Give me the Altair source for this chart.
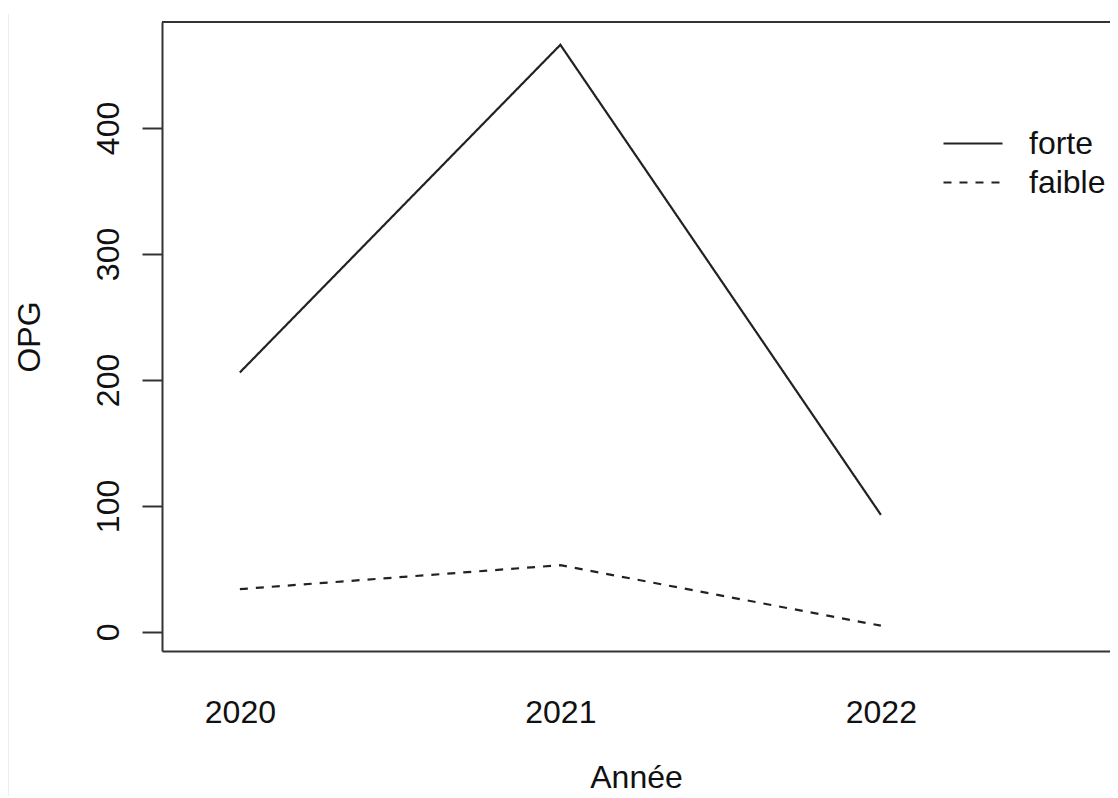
import altair as alt
import pandas as pd

annees = [2020, 2021, 2022]
forte = [206, 466, 93]
faible = [34, 53, 5]
series = ["forte", "faible"]
y_ticks = [0, 100, 200, 300, 400]

rows = []
for a, v in zip(annees, forte):
    rows.append({"Année": a, "OPG": v, "serie": "forte"})
for a, v in zip(annees, faible):
    rows.append({"Année": a, "OPG": v, "serie": "faible"})
df = pd.DataFrame(rows)

W, H = 948, 629
FONT = "Liberation Sans"
FS = 32
BOX = "#333333"

x = alt.X("Année:Q",
          scale=alt.Scale(domain=[2019.757, 2022.715], nice=False, zero=False),
          axis=alt.Axis(values=annees, format="d", ticks=False, grid=False,
                        domain=True, domainColor=BOX, domainWidth=2,
                        labelFontSize=FS, labelFont=FONT, labelColor="#111",
                        labelPadding=46, title="Année", titleFont=FONT,
                        titleFontSize=FS, titleFontWeight="normal", titleColor="#111",
                        titlePadding=34))
y = alt.Y("OPG:Q",
          scale=alt.Scale(domain=[-15.1, 484.1], nice=False, zero=False),
          axis=alt.Axis(values=y_ticks, grid=False, tickSize=20, tickWidth=2,
                        tickColor=BOX, domain=True, domainColor=BOX, domainWidth=2,
                        labelAngle=-90, labelAlign="center", labelBaseline="bottom",
                        labelFontSize=FS, labelFont=FONT, labelColor="#111",
                        labelPadding=17, title="OPG", titleFont=FONT,
                        titleFontSize=FS, titleFontWeight="normal", titleColor="#111",
                        titlePadding=46))

lines = alt.Chart(df).mark_line(strokeWidth=2.2, color="#222").encode(
    x=x, y=y,
    strokeDash=alt.StrokeDash("serie:N",
        scale=alt.Scale(domain=series, range=[[1, 0], [8, 8]]),
        legend=alt.Legend(title=None, orient="none", legendX=780, legendY=103,
                          symbolType="stroke", symbolSize=3481, symbolStrokeWidth=2.2,
                          symbolStrokeColor="#222", clipHeight=37,
                          labelFontSize=FS, labelFont=FONT, labelColor="#111",
                          labelOffset=25)),
    detail="serie:N",
)

top = alt.Chart(df).mark_rule(color=BOX, strokeWidth=2).encode(
    x=alt.value(0), x2=alt.value(W + 10), y=alt.value(0))

edge = alt.Chart(df).mark_rule(color="#eeeeee", strokeWidth=2).encode(
    x=alt.value(-154), y=alt.value(-8), y2=alt.value(H + 160))

chart = alt.layer(lines, top, edge).properties(
    width=W, height=H,
    autosize=alt.AutoSizeParams(type="none"),
    padding={"left": 154, "top": 14, "right": 0, "bottom": 145},
).configure_view(strokeWidth=0).configure(background="white")

chart.save("out.html", embed_options={"renderer": "svg", "actions": False})
